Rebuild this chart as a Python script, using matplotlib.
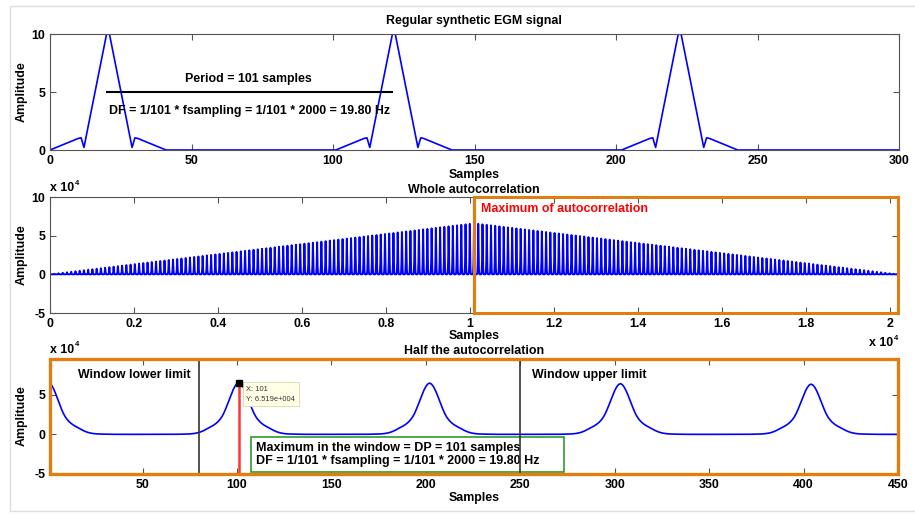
import numpy as np
import matplotlib.pyplot as plt
from matplotlib.patches import Rectangle

W, H = 915, 514

# one beat of the synthetic EGM, sample by sample (rest of the period is zero)
BEAT = [0.0, 0.1, 0.2, 0.3, 0.4, 0.5, 0.6, 0.7, 0.8, 0.9, 1.0,
        1.05, 0.22,
        1.44, 2.67, 3.89, 5.11, 6.33, 7.56, 8.78,
        10.0, 10.0,
        8.78, 7.56, 6.33, 5.11, 3.89, 2.67, 1.44,
        0.22, 1.05,
        1.0, 0.9, 0.8, 0.7, 0.6, 0.5, 0.4, 0.3, 0.2, 0.1, 0.0]
PERIOD = 101
N_BEATS = 100
FS = 2000

WIN_LOW = 80
WIN_HIGH = 250
TIP_X = 101
TIP_Y = 6.519e4

TOP_XTICKS = [0, 50, 100, 150, 200, 250, 300]
TOP_YTICKS = [0, 5, 10]
MID_XTICKS = [0, 0.2, 0.4, 0.6, 0.8, 1, 1.2, 1.4, 1.6, 1.8, 2]
MID_YTICKS = [-5, 0, 5, 10]
BOT_XTICKS = [50, 100, 150, 200, 250, 300, 350, 400, 450]
BOT_YTICKS = [-5, 0, 5]

ORANGE = "#E07F10"
BLUE = "#0000FF"
FS_TXT = 8.9

plt.rcParams["font.family"] = ["Liberation Sans", "DejaVu Sans"]
plt.rcParams["font.weight"] = "bold"
plt.rcParams["font.size"] = FS_TXT

# build the signal and its autocorrelation
beat = np.zeros(PERIOD)
beat[:len(BEAT)] = BEAT
signal = np.tile(beat, N_BEATS)
n = len(signal)
acf = np.correlate(signal, signal, mode="full")
x_full = np.arange(1, len(acf) + 1)
half = acf[n:n + 450]
x_half = np.arange(1, len(half) + 1)


def box(l, t, r, b):
    return [l / W, 1 - b / H, (r - l) / W, (b - t) / H]


def fx(x):
    return x / W


def fy(y):
    return 1 - y / H


def style(ax):
    for sp in ax.spines.values():
        sp.set_color("#555555")
        sp.set_linewidth(0.8)
    ax.tick_params(direction="in", top=True, right=True, length=4,
                   width=0.8, color="#555555", labelsize=FS_TXT, pad=3.5)


fig = plt.figure(figsize=(W / 100, H / 100), dpi=100)
fig.add_artist(Rectangle((fx(10), fy(511)), fx(910), fy(6) - fy(511),
                         transform=fig.transFigure, fill=False,
                         edgecolor="#dddddd", lw=1))

# --- regular synthetic EGM signal ---
ax1 = fig.add_axes(box(50, 34, 899, 150))
ax1.plot(np.arange(301), signal[:301], color=BLUE, lw=1.2)
ax1.set_xlim(0, 300)
ax1.set_ylim(0, 10)
ax1.set_xticks(TOP_XTICKS)
ax1.set_yticks(TOP_YTICKS)
style(ax1)
ax1.plot([20, 20 + PERIOD], [5, 5], color="black", lw=1.5)
ax1.text(70, 6.1, "Period = %d samples" % PERIOD, ha="center", va="center")
ax1.text(21, 3.4, "DF = 1/%d * fsampling = 1/%d * %d = %.2f Hz"
         % (PERIOD, PERIOD, FS, FS / PERIOD), ha="left", va="center")

# --- whole autocorrelation ---
ax2 = fig.add_axes(box(50, 197, 898, 313))
ax2.plot(x_full, acf, color=BLUE, lw=1.4)
ax2.set_xlim(0, 20200)
ax2.set_ylim(-5e4, 10e4)
ax2.set_xticks([v * 1e4 for v in MID_XTICKS])
ax2.set_xticklabels(["%g" % v for v in MID_XTICKS])
ax2.set_yticks([v * 1e4 for v in MID_YTICKS])
ax2.set_yticklabels(["%g" % v for v in MID_YTICKS])
style(ax2)
peak = int(np.argmax(acf)) + 1
ax2.plot([peak, peak], [-5e4, 10e4], color="red", lw=2.2, clip_on=False)
ax2.add_patch(Rectangle((peak, -5e4), 20200 - peak, 15e4, fill=False,
                        edgecolor=ORANGE, lw=2.2, clip_on=False, zorder=5))
ax2.text(peak + 170, 8.4e4, "Maximum of autocorrelation", color="red",
         ha="left", va="center")

# --- half the autocorrelation ---
ax3 = fig.add_axes(box(50, 359, 898, 474))
ax3.plot(x_half, half, color=BLUE, lw=1.2)
ax3.set_xlim(1, 450)
ax3.set_ylim(-5e4, 9.5e4)
ax3.set_xticks(BOT_XTICKS)
ax3.set_yticks([v * 1e4 for v in BOT_YTICKS])
ax3.set_yticklabels(["%g" % v for v in BOT_YTICKS])
style(ax3)

# result box sits under the window limit lines
ax3.add_patch(Rectangle((fx(251), fy(472)), fx(564) - fx(251), fy(437) - fy(472),
                        transform=fig.transFigure, fc="white", ec="#2E9A2E",
                        lw=1.2, zorder=2.5, clip_on=False))
ax3.text(fx(256), fy(454.5),
         "Maximum in the window = DP = %d samples\n"
         "DF = 1/%d * fsampling = 1/%d * %d = %.2f Hz"
         % (PERIOD, PERIOD, PERIOD, FS, FS / PERIOD),
         transform=fig.transFigure, fontsize=9.0, ha="left", va="center",
         linespacing=1.15, zorder=2.6)

ax3.axvline(WIN_LOW, color="#333333", lw=1.2, zorder=3)
ax3.axvline(WIN_HIGH, color="#333333", lw=1.2, zorder=3)
ax3.text(16, 7.45e4, "Window lower limit", ha="left", va="center")
ax3.text(256, 7.45e4, "Window upper limit", ha="left", va="center")
ax3.plot([TIP_X, TIP_X], [-5e4, TIP_Y], color="#FF3333", lw=1.8)
ax3.plot(TIP_X, TIP_Y, marker="s", ms=5, color="black", zorder=6)
ax3.text(TIP_X + 4, TIP_Y - 1.45e4, "X: %d\nY: %.3fe+004" % (TIP_X, TIP_Y / 1e4),
         fontsize=5.4, fontweight="normal", color="#333333", ha="left",
         va="center", linespacing=1.6,
         bbox=dict(boxstyle="square,pad=0.5", fc="#FFFFE6", ec="#D8D8B0", lw=0.6))
ax3.add_patch(Rectangle((0, 0), 1, 1, transform=ax3.transAxes, fill=False,
                        edgecolor=ORANGE, lw=2.4, clip_on=False, zorder=5))

# titles, axis labels and exponent markers
for title, yy in [("Regular synthetic EGM signal", 21),
                  ("Whole autocorrelation", 190),
                  ("Half the autocorrelation", 351)]:
    fig.text(fx(474), fy(yy), title, ha="center", va="center")
for yy in [175, 336, 498]:
    fig.text(fx(474), fy(yy), "Samples", ha="center", va="center")
for yy in [92, 255, 416]:
    fig.text(fx(22), fy(yy), "Amplitude", ha="center", va="center", rotation=90)
for xx, yy in [(50, 188), (50, 350), (869, 343)]:
    fig.text(fx(xx), fy(yy), "x 10", ha="left", va="center")
    fig.text(fx(xx + 25), fy(yy - 5), "4", ha="left", va="center", fontsize=5.5)

fig.savefig("out.png", dpi=100)
